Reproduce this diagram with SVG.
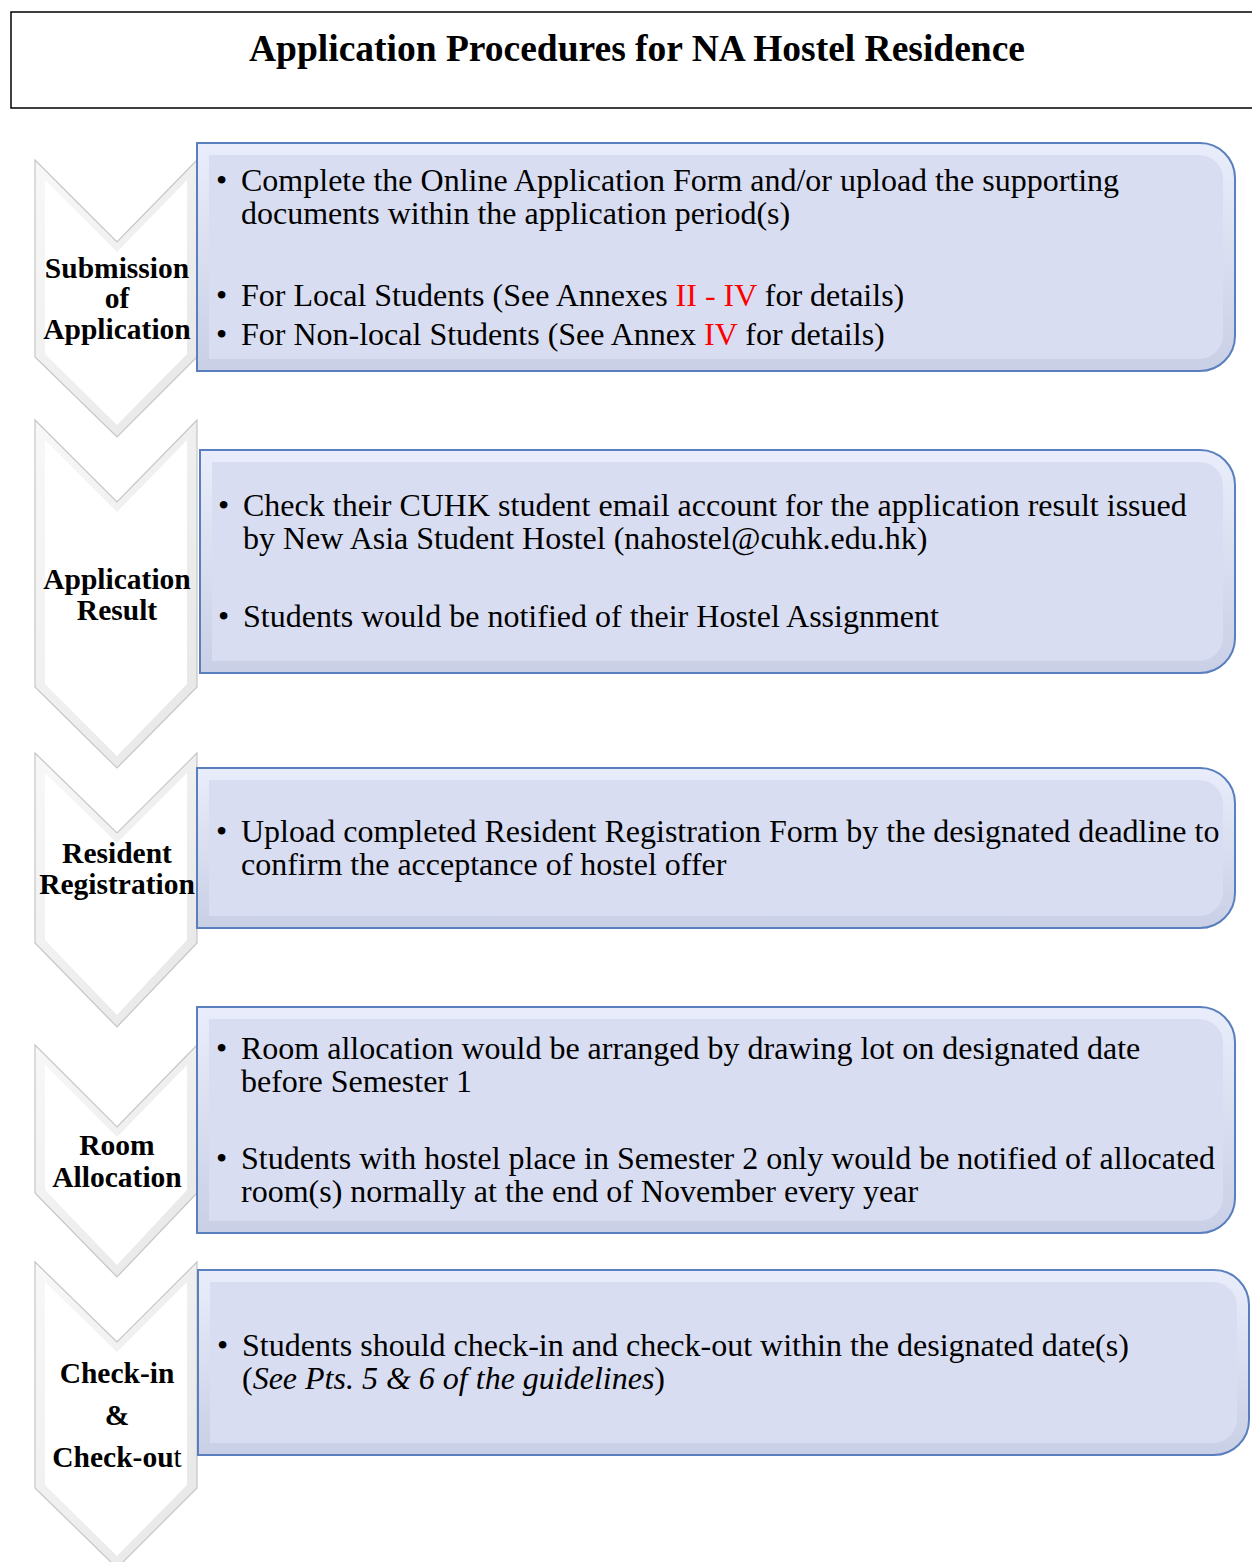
<svg xmlns="http://www.w3.org/2000/svg" width="1252" height="1562" viewBox="0 0 1252 1562">
<defs>
<linearGradient id="boxBevel" x1="0" y1="0" x2="0" y2="1">
<stop offset="0" stop-color="#e9edfb"/>
<stop offset="1" stop-color="#c9cfe5"/>
</linearGradient>
<linearGradient id="chevBevel" x1="0" y1="0" x2="1" y2="1">
<stop offset="0" stop-color="#f8f8f8"/>
<stop offset="1" stop-color="#e6e6e6"/>
</linearGradient>
</defs>
<style>
.box-out{fill:url(#boxBevel);stroke:#5a7fbf;stroke-width:2}
.box-in{fill:#d9ddf1}
.chev-out{fill:url(#chevBevel);stroke:#c6c6c6;stroke-width:1.2}
.chev-in{fill:#ffffff}
.label{font-family:"Liberation Serif","Times New Roman",serif;font-weight:bold;font-size:29.5px;fill:#000;text-anchor:middle}
.body{font-family:"Liberation Serif","Times New Roman",serif;font-size:32px;fill:#000}
.red{fill:#ff0000}
.title{font-family:"Liberation Serif","Times New Roman",serif;font-weight:bold;font-size:37.5px;fill:#000;text-anchor:middle}
</style>
<rect width="1252" height="1562" fill="#ffffff"/>

<g id="title">
<rect x="11" y="12" width="1250" height="96" fill="none" stroke="#000" stroke-width="1.5"/>
<text class="title" x="637" y="61">Application Procedures for NA Hostel Residence</text>
</g>

<g id="step1-chevron">
<polygon class="chev-out" points="35,160 117,242 197,160 197,357 117,437 35,357"/>
<polygon class="chev-in" points="45,180 117,252 187,180 187,354 117,425 45,354"/>
<text class="label" x="117" y="278">Submission</text>
<text class="label" x="117" y="308">of</text>
<text class="label" x="117" y="339">Application</text>
</g>
<g id="step2-chevron">
<polygon class="chev-out" points="35,420 117,502 197,420 197,687 117,768 35,687"/>
<polygon class="chev-in" points="45,440 117,512 187,440 187,684 117,756 45,684"/>
<text class="label" x="117" y="589">Application</text>
<text class="label" x="117" y="620">Result</text>
</g>
<g id="step3-chevron">
<polygon class="chev-out" points="35,753 117,833 197,753 197,943 117,1027 35,943"/>
<polygon class="chev-in" points="45,773 117,843 187,773 187,940 117,1015 45,940"/>
<text class="label" x="117" y="863">Resident</text>
<text class="label" x="117" y="894">Registration</text>
</g>
<g id="step4-chevron">
<polygon class="chev-out" points="35,1045 117,1127 197,1045 197,1193 117,1277 35,1193"/>
<polygon class="chev-in" points="45,1065 117,1137 187,1065 187,1190 117,1265 45,1190"/>
<text class="label" x="117" y="1155">Room</text>
<text class="label" x="117" y="1187">Allocation</text>
</g>
<g id="step5-chevron">
<polygon class="chev-out" points="35,1262 117,1342 197,1262 197,1488 117,1568 35,1488"/>
<polygon class="chev-in" points="45,1282 117,1352 187,1282 187,1485 117,1556 45,1485"/>
<text class="label" x="117" y="1383">Check-in</text>
<text class="label" x="117" y="1425">&amp;</text>
<text class="label" x="117" y="1467">Check-ou<tspan font-weight="normal">t</tspan></text>
</g>

<g id="step1-box">
<path class="box-out" d="M197,143 H1200 A35 35 0 0 1 1235,178 V336 A35 35 0 0 1 1200,371 H197 Z"/>
<path class="box-in" d="M209,155 H1199 A24 24 0 0 1 1223,179 V335 A24 24 0 0 1 1199,359 H209 Z"/>
<text class="body" x="216" y="191">•</text>
<text class="body" x="241" y="191">Complete the Online Application Form and/or upload the supporting</text>
<text class="body" x="241" y="224">documents within the application period(s)</text>
<text class="body" x="216" y="306">•</text>
<text class="body" x="241" y="306">For Local Students (See Annexes <tspan class="red">II - IV</tspan> for details)</text>
<text class="body" x="216" y="345">•</text>
<text class="body" x="241" y="345">For Non-local Students (See Annex <tspan class="red">IV</tspan> for details)</text>
</g>
<g id="step2-box">
<path class="box-out" d="M200,450 H1200 A35 35 0 0 1 1235,485 V638 A35 35 0 0 1 1200,673 H200 Z"/>
<path class="box-in" d="M212,462 H1199 A24 24 0 0 1 1223,486 V637 A24 24 0 0 1 1199,661 H212 Z"/>
<text class="body" x="218" y="516">•</text>
<text class="body" x="243" y="516">Check their CUHK student email account for the application result issued</text>
<text class="body" x="243" y="549">by New Asia Student Hostel (nahostel@cuhk.edu.hk)</text>
<text class="body" x="218" y="627">•</text>
<text class="body" x="243" y="627">Students would be notified of their Hostel Assignment</text>
</g>
<g id="step3-box">
<path class="box-out" d="M197,768 H1200 A35 35 0 0 1 1235,803 V893 A35 35 0 0 1 1200,928 H197 Z"/>
<path class="box-in" d="M209,780 H1199 A24 24 0 0 1 1223,804 V892 A24 24 0 0 1 1199,916 H209 Z"/>
<text class="body" x="216" y="842">•</text>
<text class="body" x="241" y="842">Upload completed Resident Registration Form by the designated deadline to</text>
<text class="body" x="241" y="875">confirm the acceptance of hostel offer</text>
</g>
<g id="step4-box">
<path class="box-out" d="M197,1007 H1200 A35 35 0 0 1 1235,1042 V1198 A35 35 0 0 1 1200,1233 H197 Z"/>
<path class="box-in" d="M209,1019 H1199 A24 24 0 0 1 1223,1043 V1197 A24 24 0 0 1 1199,1221 H209 Z"/>
<text class="body" x="216" y="1059">•</text>
<text class="body" x="241" y="1059">Room allocation would be arranged by drawing lot on designated date</text>
<text class="body" x="241" y="1092">before Semester 1</text>
<text class="body" x="216" y="1169">•</text>
<text class="body" x="241" y="1169">Students with hostel place in Semester 2 only would be notified of allocated</text>
<text class="body" x="241" y="1202">room(s) normally at the end of November every year</text>
</g>
<g id="step5-box">
<path class="box-out" d="M198,1270 H1214 A35 35 0 0 1 1249,1305 V1420 A35 35 0 0 1 1214,1455 H198 Z"/>
<path class="box-in" d="M210,1282 H1213 A24 24 0 0 1 1237,1306 V1419 A24 24 0 0 1 1213,1443 H210 Z"/>
<text class="body" x="217" y="1356">•</text>
<text class="body" x="242" y="1356">Students should check-in and check-out within the designated date(s)</text>
<text class="body" x="242" y="1389">(<tspan font-style="italic">See Pts. 5 &amp; 6 of the guidelines</tspan>)</text>
</g>
</svg>
